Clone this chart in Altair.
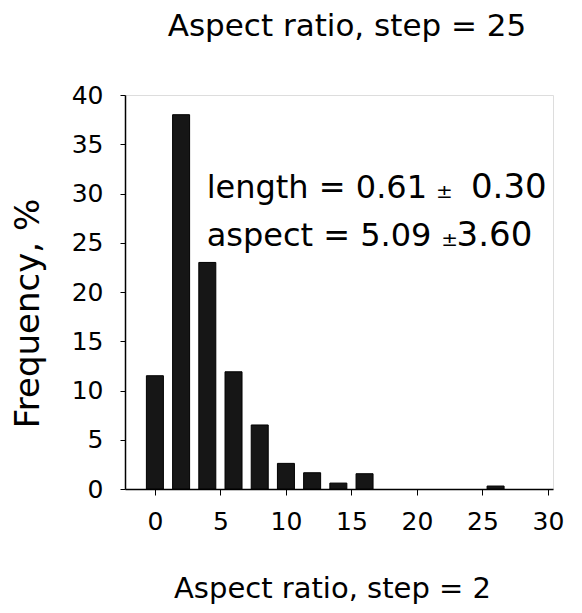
import altair as alt
import pandas as pd

# Data
aspect_bins = [0, 2, 4, 6, 8, 10, 12, 14, 16, 26]
frequency = [11.5, 38.0, 23.0, 11.9, 6.5, 2.6, 1.65, 0.6, 1.55, 0.3]

note_left = ["length = 0.61", "aspect = 5.09"]
note_pm = ["±", "±"]
note_right = ["0.30", "3.60"]
note_y = [29.5, 24.7]

FONT = "DejaVu Sans"

bars_df = pd.DataFrame({"aspect": aspect_bins, "freq": frequency})
left_df = pd.DataFrame({"x": [3.95, 3.95], "y": note_y, "t": note_left})
pm_df = pd.DataFrame({"x": [22.1, 22.5], "y": note_y, "t": note_pm})
right_df = pd.DataFrame({"x": [29.9, 28.8], "y": note_y, "t": note_right})

xscale = alt.Scale(domain=[-1.9, 30], nice=False, zero=False)
yscale = alt.Scale(domain=[0, 40], nice=False)

bars = alt.Chart(bars_df).mark_bar(size=17, color="#161616", stroke="#000000", strokeWidth=1).encode(
    x=alt.X("aspect:Q", scale=xscale,
            axis=alt.Axis(values=[0, 5, 10, 15, 20, 25, 30], title="Aspect ratio, step = 2",
                          labelFont=FONT, labelFontSize=25, labelColor="#000", labelPadding=14,
                          tickSize=6, tickColor="#000", domainColor="#000", domainWidth=1.5,
                          grid=False, labelFlush=False,
                          titleFont=FONT, titleFontSize=29, titleFontWeight="normal", titleColor="#000",
                          titleX=207, titleY=99, titleBaseline="middle", titleAnchor="middle")),
    y=alt.Y("freq:Q", scale=yscale,
            axis=alt.Axis(values=[0, 5, 10, 15, 20, 25, 30, 35, 40], title="Frequency, %",
                          labelFont=FONT, labelFontSize=25, labelColor="#000", labelPadding=17,
                          tickSize=5, tickColor="#000", domainColor="#000", domainWidth=1.5,
                          grid=False,
                          titleFont=FONT, titleFontSize=34, titleFontWeight="normal", titleColor="#000",
                          titleAngle=270, titleX=-97, titleY=218, titleAlign="center",
                          titleBaseline="middle")),
)

left_txt = alt.Chart(left_df).mark_text(font=FONT, fontSize=32, align="left", baseline="alphabetic",
                                        color="#000").encode(
    x=alt.X("x:Q", scale=xscale), y=alt.Y("y:Q", scale=yscale), text="t:N")
pm_txt = alt.Chart(pm_df).mark_text(font=FONT, fontSize=20, align="center", baseline="alphabetic",
                                    color="#000").encode(
    x=alt.X("x:Q", scale=xscale), y=alt.Y("y:Q", scale=yscale), text="t:N")
right_txt = alt.Chart(right_df).mark_text(font=FONT, fontSize=34, align="right", baseline="alphabetic",
                                          color="#000").encode(
    x=alt.X("x:Q", scale=xscale), y=alt.Y("y:Q", scale=yscale), text="t:N")

chart = alt.layer(bars, left_txt, pm_txt, right_txt).properties(
    width=428, height=394,
    title=alt.TitleParams("Aspect ratio, step = 25", font=FONT, fontSize=31, fontWeight="normal",
                          color="#000", anchor="middle", offset=40, dx=8),
    autosize=alt.AutoSizeParams(type="none"),
    padding={"left": 117, "top": 87, "right": 21, "bottom": 116},
).configure_view(stroke="#000", strokeWidth=1.5).configure(background="white")

chart.save("out.html", embed_options={"renderer": "svg", "actions": False})
